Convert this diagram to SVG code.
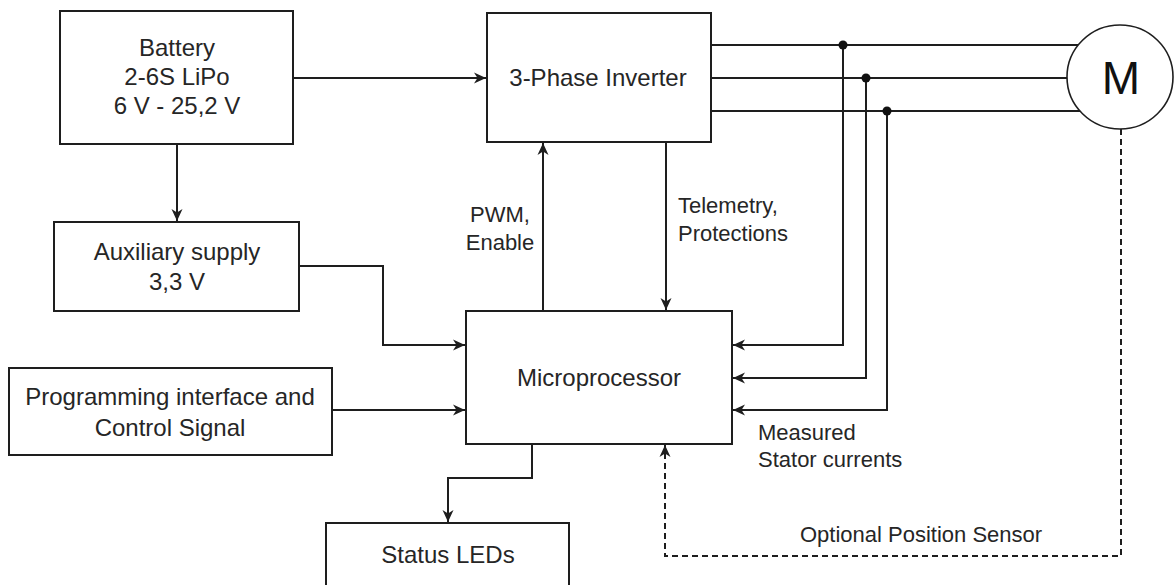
<svg xmlns="http://www.w3.org/2000/svg" width="1175" height="585" viewBox="0 0 1175 585">
<style>
.box{fill:#fff;stroke:#1e1e1e;stroke-width:2}
.t{font-family:"Liberation Sans",Arial,sans-serif;font-size:24px;fill:#262626;text-anchor:middle}
.l{font-family:"Liberation Sans",Arial,sans-serif;font-size:22px;fill:#262626}
.c{fill:none;stroke:#1e1e1e;stroke-width:2}
.d{fill:none;stroke:#1e1e1e;stroke-width:2;stroke-dasharray:6 4}
</style>
<defs>
<marker id="a" markerUnits="userSpaceOnUse" markerWidth="14" markerHeight="14" refX="12" refY="7" orient="auto" viewBox="0 0 14 14">
<path d="M0,1.5 L12,7 L0,12.5 L3.5,7 Z" fill="#1e1e1e"/>
</marker>
</defs>
<rect width="1175" height="585" fill="#fff"/>
<g id="connectors">
<path class="c" d="M293,78 H486" marker-end="url(#a)"/>
<path class="c" d="M177,144 V221" marker-end="url(#a)"/>
<path class="c" d="M299,266 H383 V345 H465" marker-end="url(#a)"/>
<path class="c" d="M332,410 H465" marker-end="url(#a)"/>
<path class="c" d="M543,311 V143" marker-end="url(#a)"/>
<path class="c" d="M666,142 V310" marker-end="url(#a)"/>
<path class="c" d="M532,444 V478 H448 V522" marker-end="url(#a)"/>
<path class="c" d="M711,45 H1100"/>
<path class="c" d="M711,78 H1100"/>
<path class="c" d="M711,111 H1100"/>
<path class="c" d="M843,45 V345 H733" marker-end="url(#a)"/>
<path class="c" d="M866,78 V378 H733" marker-end="url(#a)"/>
<path class="c" d="M887,111 V410 H733" marker-end="url(#a)"/>
<circle cx="843" cy="45" r="4.5" fill="#111"/>
<circle cx="866" cy="78" r="4.5" fill="#111"/>
<circle cx="887" cy="111" r="4.5" fill="#111"/>
<path class="d" d="M1121,129 V556 H665 V445" marker-end="url(#a)"/>
<text class="l" x="500" y="222" text-anchor="middle">PWM,</text>
<text class="l" x="500" y="250" text-anchor="middle">Enable</text>
<text class="l" x="678" y="213">Telemetry,</text>
<text class="l" x="678" y="241">Protections</text>
<text class="l" x="758" y="440">Measured</text>
<text class="l" x="758" y="467">Stator currents</text>
<text class="l" x="800" y="542">Optional Position Sensor</text>
</g>
<g id="battery">
<rect class="box" x="60" y="11" width="233" height="133"/>
<text class="t" x="177" y="56">Battery</text>
<text class="t" x="177" y="85">2-6S LiPo</text>
<text class="t" x="177" y="114">6 V - 25,2 V</text>
</g>
<g id="inverter">
<rect class="box" x="487" y="13" width="224" height="129"/>
<text class="t" x="598" y="86">3-Phase Inverter</text>
</g>
<g id="motor">
<ellipse cx="1120" cy="77" rx="53" ry="52" fill="#fff" stroke="#1e1e1e" stroke-width="1.6"/>
<text x="1121" y="94" font-family="'Liberation Sans',Arial,sans-serif" font-size="46" fill="#111" text-anchor="middle">M</text>
</g>
<g id="aux">
<rect class="box" x="54" y="222" width="245" height="89"/>
<text class="t" x="177" y="260">Auxiliary supply</text>
<text class="t" x="177" y="290">3,3 V</text>
</g>
<g id="programming">
<rect class="box" x="9" y="368" width="323" height="87"/>
<text class="t" x="170" y="405">Programming interface and</text>
<text class="t" x="170" y="436">Control Signal</text>
</g>
<g id="microprocessor">
<rect class="box" x="466" y="311" width="266" height="133"/>
<text class="t" x="599" y="386">Microprocessor</text>
</g>
<g id="status">
<rect class="box" x="326" y="523" width="243" height="80"/>
<text class="t" x="448" y="563">Status LEDs</text>
</g>
</svg>
